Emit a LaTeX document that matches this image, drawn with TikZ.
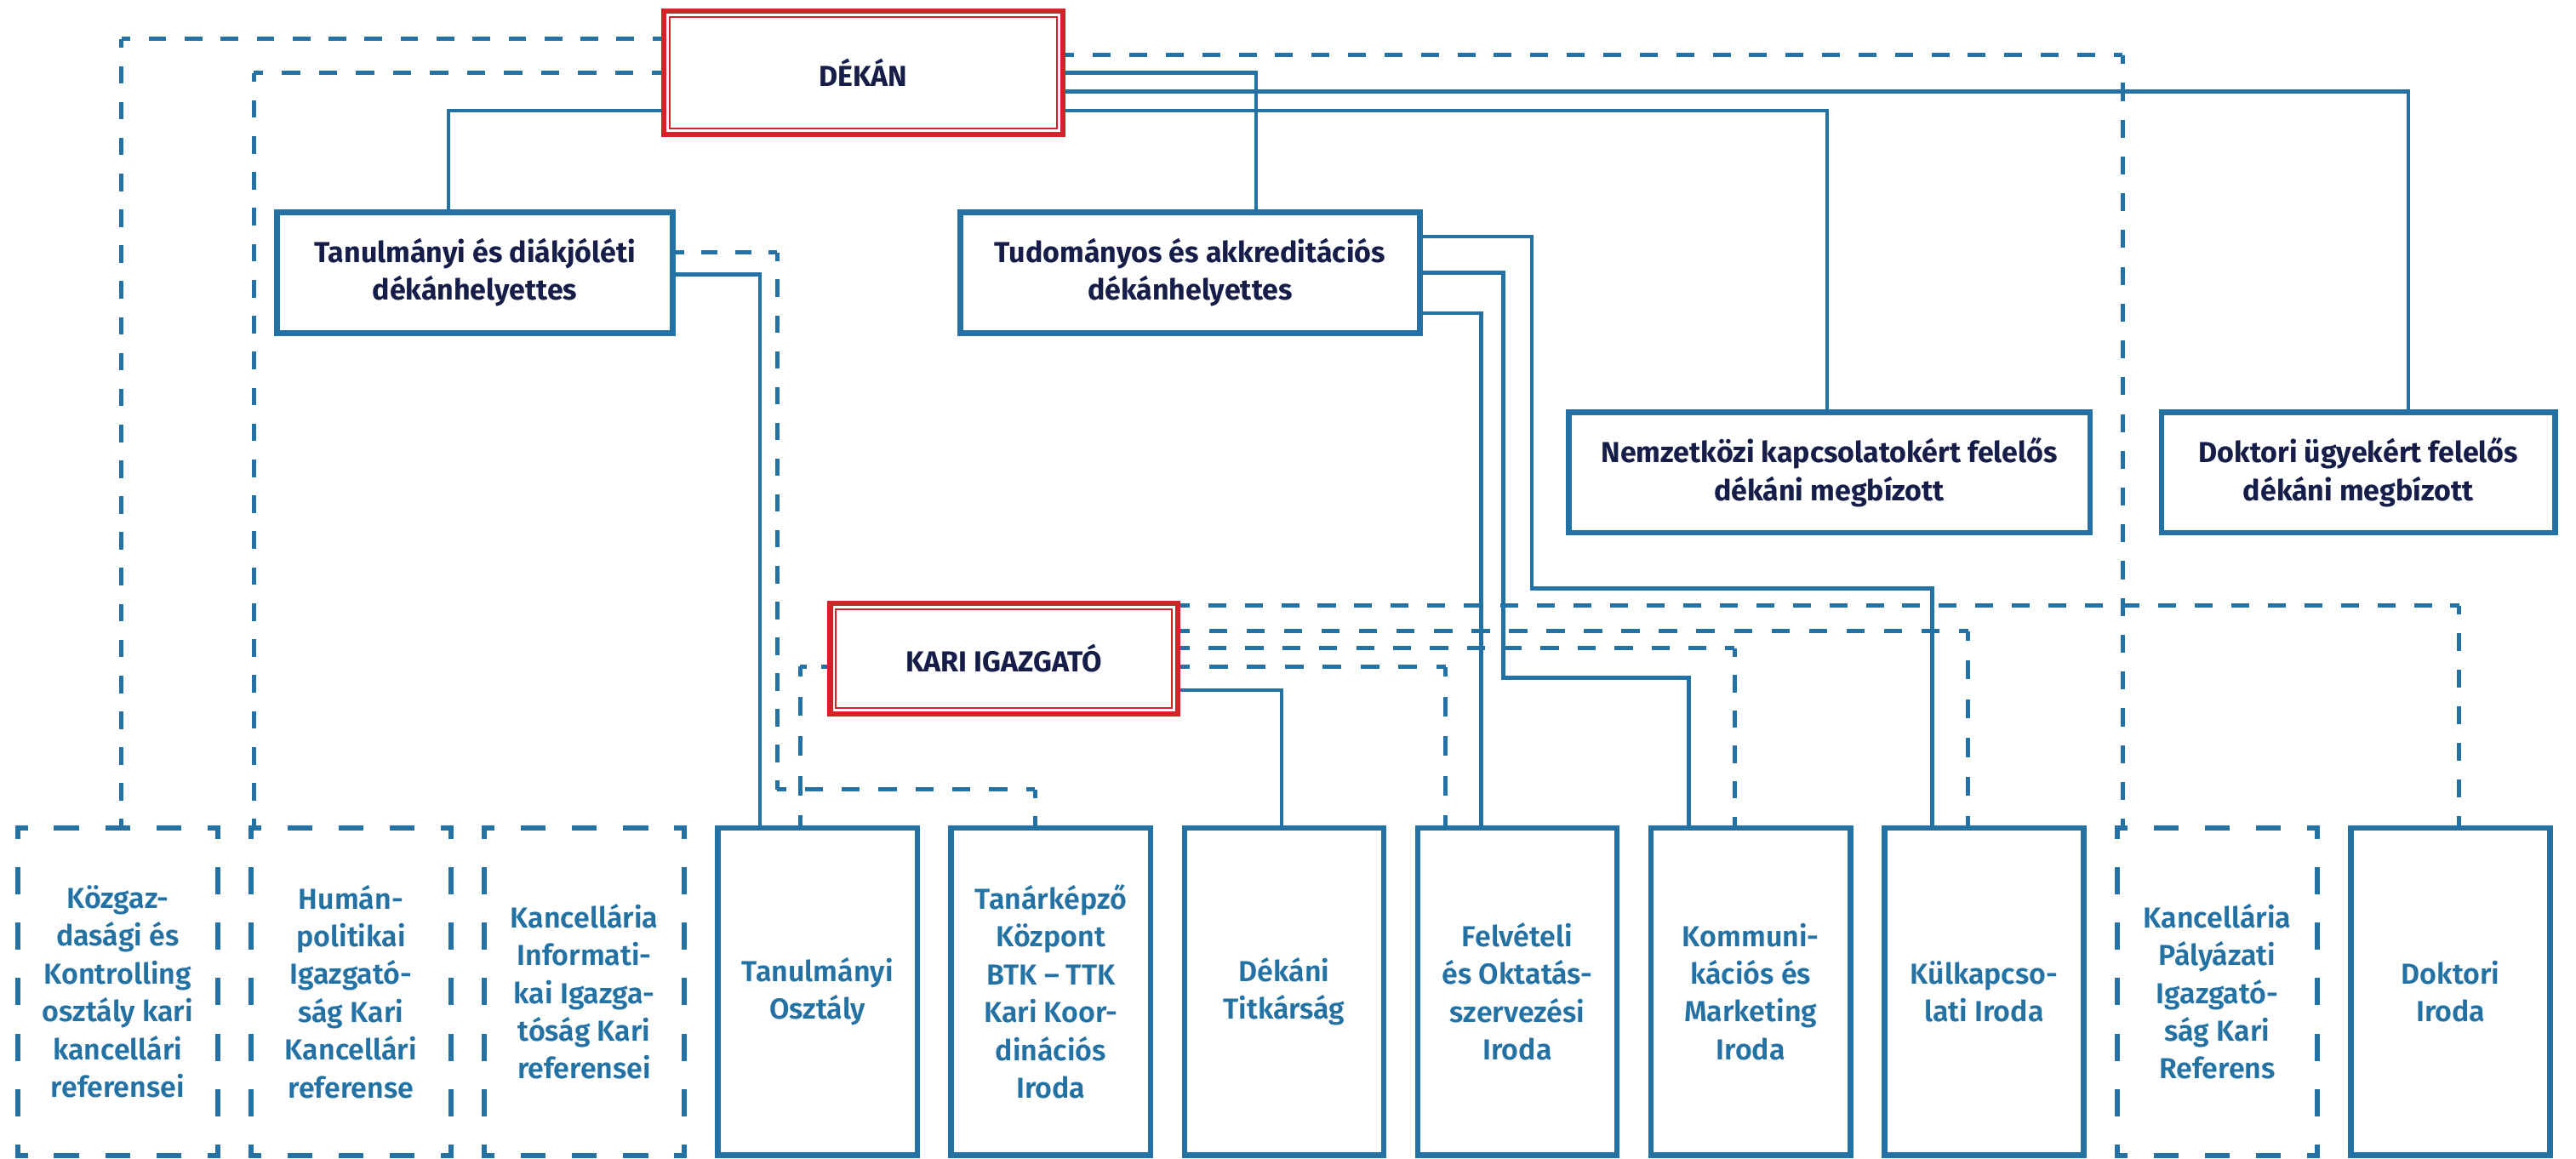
\documentclass[tikz,border=0pt]{standalone}
\usepackage{fontspec}
\setmainfont{Fira Sans}
\newfontfamily\semib{Fira Sans SemiBold}
\definecolor{lblue}{HTML}{2471A3}
\definecolor{navy}{HTML}{161D48}
\definecolor{kred}{HTML}{D42229}
\tikzset{
  txt/.style={font=\bfseries\fontsize{17.6}{23}\selectfont},
  btxt/.style={font=\semib\fontsize{17.6}{23}\selectfont},
  topbox/.style={txt, draw=lblue, line width=3.5pt, fill=white, align=center, text=navy, inner sep=0pt},
  redbox/.style={txt, draw=kred, line width=3.2pt, fill=white, align=center, text=navy, inner sep=0pt},
  botbox/.style={btxt, draw=lblue, line width=3.4pt, fill=white, align=center, text=lblue, inner sep=0pt,
                 minimum width=121.3pt, minimum height=199.3pt},
  dbotbox/.style={btxt, align=center, text=lblue, inner sep=0pt, outer sep=0pt,
                 minimum width=121.5pt, minimum height=199.5pt},
  sl/.style={draw=lblue, line width=2.3pt},
  dl/.style={draw=lblue, line width=2.6pt},
  dbs/.style={draw=lblue, line width=3.2pt},
  inner/.style={draw=kred, line width=1pt}
}
% dashed segment whose dashes are fitted so that both ends carry half a dash
% #1 period, #2 style, #3 start, #4 end
\newcommand\fdash[4][22.3]{%
  \path #3 coordinate (fdA) #4 coordinate (fdB);%
  \pgfpointdiff{\pgfpointanchor{fdA}{center}}{\pgfpointanchor{fdB}{center}}%
  \pgfgetlastxy{\fdx}{\fdy}%
  \pgfmathsetmacro\fdL{veclen(\fdx,\fdy)}%
  \pgfmathsetmacro\fdN{max(1,round(\fdL/#1))}%
  \pgfmathsetmacro\fdD{0.49*\fdL/\fdN}%
  \pgfmathsetmacro\fdG{\fdL/\fdN-\fdD}%
  \pgfmathsetmacro\fdH{\fdD/2}%
  \draw[#2, dash pattern=on \fdD pt off \fdG pt, dash phase=\fdH pt] (fdA) -- (fdB);%
}
% dashed border of a box node (path edges = node anchors, outer sep 0)
\newcommand\dbsides[1]{%
  \fdash[31.2]{dbs}{([shift={(-1.6,0)}]#1.north west)}{([shift={(1.6,0)}]#1.north east)}%
  \fdash[31.2]{dbs}{([shift={(-1.6,0)}]#1.south west)}{([shift={(1.6,0)}]#1.south east)}%
  \fdash[33.7]{dbs}{([shift={(0,-1.6)}]#1.north west)}{([shift={(0,1.6)}]#1.south west)}%
  \fdash[33.7]{dbs}{([shift={(0,-1.6)}]#1.north east)}{([shift={(0,1.6)}]#1.south east)}%
}
\begin{document}
\begin{tikzpicture}[x=1pt,y=-1pt]
\useasboundingbox (0,0) rectangle (1568,705.5);

% top level
\node[redbox, minimum width=242.8pt, minimum height=74.8pt] (dekan) at (525.5,44.3) {DÉKÁN};
\draw[inner] ([shift={(5.2,5.2)}]dekan.north west) rectangle ([shift={(-5.2,-5.2)}]dekan.south east);

\node[topbox, minimum width=241pt, minimum height=73.8pt] (tdk) at (289.05,165.95) {Tanulmányi és diákjóléti\\dékánhelyettes};
\node[topbox, minimum width=279.8pt, minimum height=73.8pt] (tud) at (724.35,165.95) {Tudományos és akkreditációs\\dékánhelyettes};
\node[topbox, minimum width=317.5pt, minimum height=73.2pt] (nem) at (1113.5,287.65) {Nemzetközi kapcsolatokért felelős\\dékáni megbízott};
\node[topbox, minimum width=239.5pt, minimum height=73.2pt] (dok) at (1435.5,287.65) {Doktori ügyekért felelős\\dékáni megbízott};

\node[redbox, minimum width=211.7pt, minimum height=67.1pt] (kari) at (611.15,400.85) {KARI IGAZGATÓ};
\draw[inner] ([shift={(5.2,5.2)}]kari.north west) rectangle ([shift={(-5.2,-5.2)}]kari.south east);

% bottom row
\node[dbotbox] (kozgaz) at (71.65,603.65) {Közgaz-\\dasági és\\Kontrolling\\osztály kari\\kancellári\\referensei};
\node[dbotbox] (human) at (213.65,603.65) {Humán-\\politikai\\Igazgató-\\ság Kari\\Kancellári\\referense};
\node[dbotbox] (kinf) at (355.65,603.65) {Kancellária\\Informati-\\kai Igazga-\\tóság Kari\\referensei};
\node[botbox] (tanoszt) at (497.65,603.65) {Tanulmányi\\Osztály};
\node[botbox] (tanark) at (639.65,603.65) {Tanárképző\\Központ\\BTK – TTK\\Kari Koor-\\dinációs\\Iroda};
\node[botbox] (dektit) at (781.65,603.65) {Dékáni\\Titkárság};
\node[botbox] (felv) at (923.65,603.65) {Felvételi\\és Oktatás-\\szervezési\\Iroda};
\node[botbox] (komm) at (1065.65,603.65) {Kommuni-\\kációs és\\Marketing\\Iroda};
\node[botbox] (kulk) at (1207.65,603.65) {Külkapcso-\\lati Iroda};
\node[dbotbox] (kpal) at (1349.65,603.65) {Kancellária\\Pályázati\\Igazgató-\\ság Kari\\Referens};
\node[botbox] (dokir) at (1491.65,603.65) {Doktori\\Iroda};

\dbsides{kozgaz}
\dbsides{human}
\dbsides{kinf}
\dbsides{kpal}

% connectors from DÉKÁN
\fdash{dl}{(dekan.west |- 0,23.7)}{(74,23.7)}
\fdash{dl}{(74,23.7)}{(kozgaz.north -| 74,0)}
\fdash{dl}{(dekan.west |- 0,44.4)}{(154.6,44.4)}
\fdash{dl}{(154.6,44.4)}{(human.north -| 154.6,0)}
\draw[sl] (dekan.west |- 0,67.3) -| (tdk.north -| 273,0);
\fdash{dl}{(dekan.east |- 0,33.5)}{(1292,33.5)}
\fdash{dl}{(1292,33.5)}{(kpal.north -| 1292,0)}
\draw[sl] (dekan.east |- 0,44.4) -| (tud.north -| 764.6,0);
\draw[sl] (dekan.east |- 0,55.8) -| (dok.north -| 1466,0);
\draw[sl] (dekan.east |- 0,67.3) -| (nem.north -| 1112,0);

% from Tanulmányi és diákjóléti
\fdash{dl}{(tdk.east |- 0,153.7)}{(473,153.7)}
\fdash{dl}{(473,153.7)}{(473,480.5)}
\fdash{dl}{(473,480.5)}{(630,480.5)}
\fdash{dl}{(630,480.5)}{(tanark.north -| 630,0)}
\draw[sl] (tdk.east |- 0,167) -| (tanoszt.north -| 462.5,0);

% from Tudományos
\draw[sl] (tud.east |- 0,144) -| (932.5,358.3) -| (kulk.north -| 1176,0);
\draw[sl] (tud.east |- 0,166) -| (915,412.7) -| (komm.north -| 1028,0);
\draw[sl] (tud.east |- 0,190.5) -| (felv.north -| 901.5,0);

% from KARI IGAZGATÓ
\fdash{dl}{(kari.west |- 0,405.8)}{(487,405.8)}
\fdash{dl}{(487,405.8)}{(tanoszt.north -| 487,0)}
\fdash{dl}{(kari.east |- 0,368.6)}{(1497,368.6)}
\fdash{dl}{(1497,368.6)}{(dokir.north -| 1497,0)}
\fdash{dl}{(kari.east |- 0,384.2)}{(1198,384.2)}
\fdash{dl}{(1198,384.2)}{(kulk.north -| 1198,0)}
\fdash{dl}{(kari.east |- 0,394.7)}{(1055.7,394.7)}
\fdash{dl}{(1055.7,394.7)}{(komm.north -| 1055.7,0)}
\fdash{dl}{(kari.east |- 0,406)}{(880,406)}
\fdash{dl}{(880,406)}{(felv.north -| 880,0)}
\draw[sl] (kari.east |- 0,420) -| (dektit.north -| 780,0);
\end{tikzpicture}
\end{document}
